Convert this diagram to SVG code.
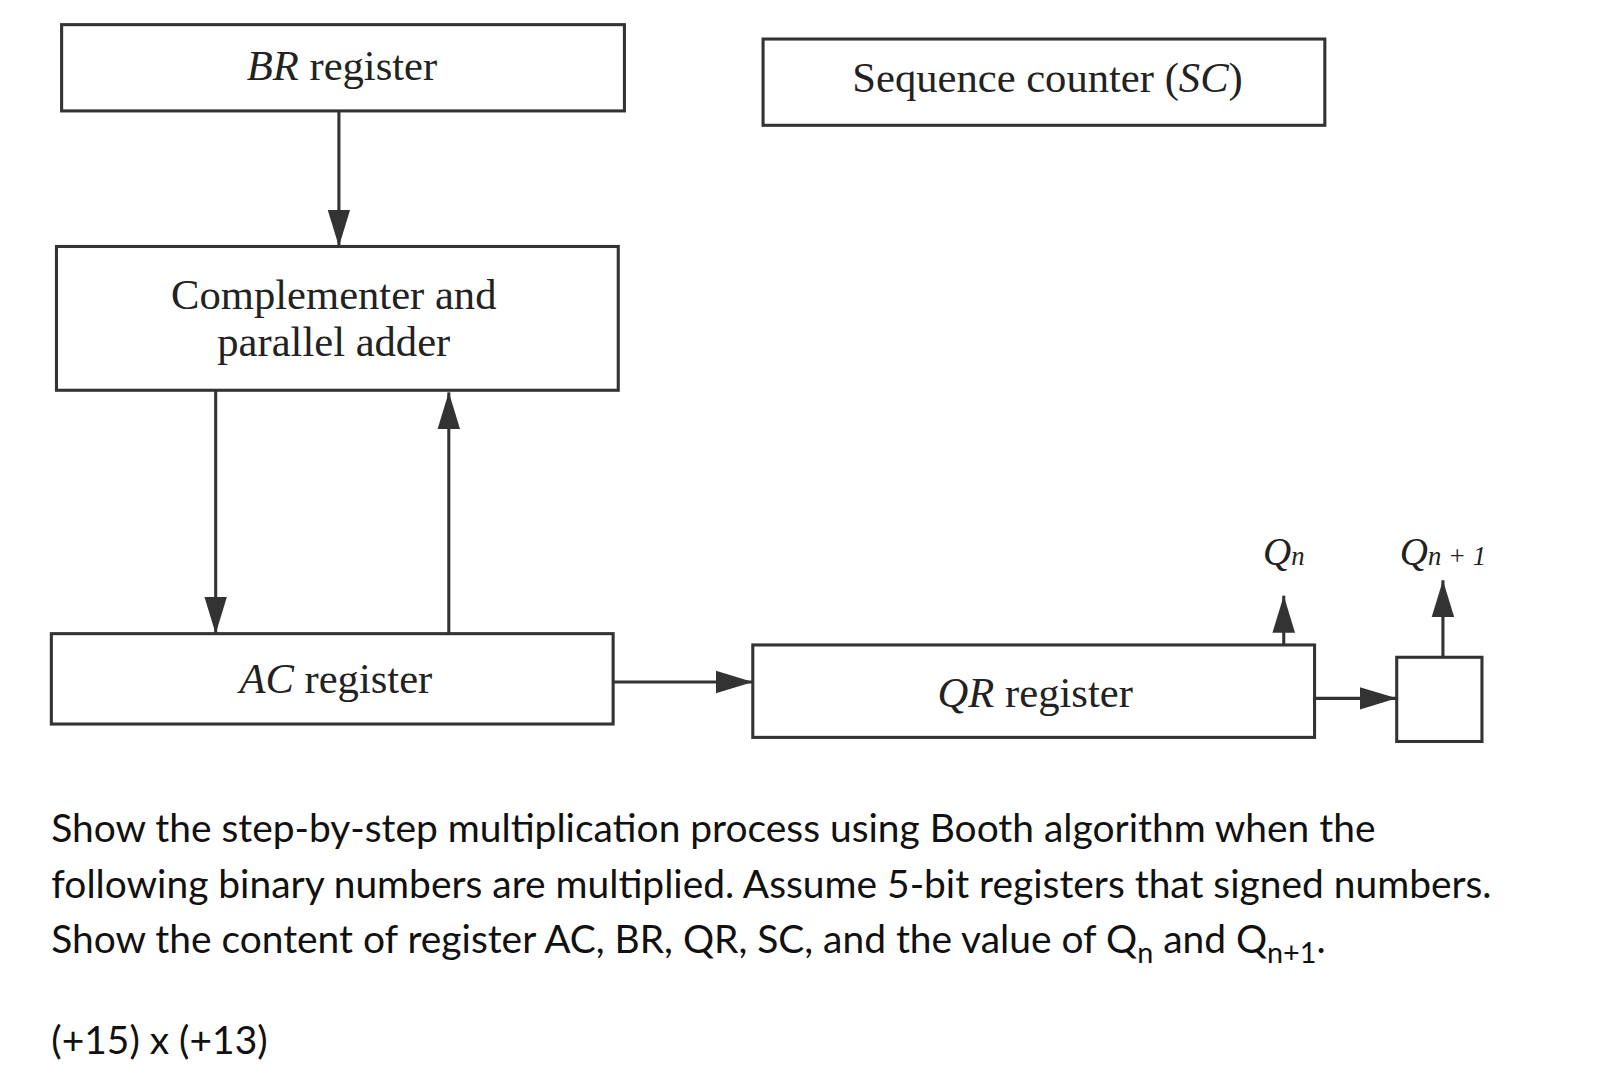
<svg xmlns="http://www.w3.org/2000/svg" width="1610" height="1080" viewBox="0 0 1610 1080">
<style>
.box{fill:none;stroke:#333;stroke-width:3}
.lbl{font-family:"Liberation Serif",serif;font-size:41.5px;fill:#222;text-anchor:middle}
.q{font-family:"Liberation Serif",serif;font-style:italic;font-size:38px;fill:#222;text-anchor:middle}
.txt{font-family:Lato,"Liberation Sans",sans-serif;font-size:37.9px;fill:#111}
.con{stroke:#333;stroke-width:3;fill:none;marker-end:url(#ah2)}
</style>
<defs>
<marker id="ah2" markerWidth="36" markerHeight="26" refX="36" refY="13" orient="auto" markerUnits="userSpaceOnUse" viewBox="0 0 36 26"><path d="M0,2 L36,13 L0,24 Z" fill="#333"/></marker></defs>
<rect width="1610" height="1080" fill="#fff"/>
<g transform="scale(1.027)">
<g id="br"><rect class="box" x="60" y="24" width="548" height="84"/><text class="lbl" x="333" y="78"><tspan font-style="italic">BR</tspan> register</text></g>
<g id="sc"><rect class="box" x="743" y="38" width="547" height="84"/><text class="lbl" x="1020" y="90">Sequence counter (<tspan font-style="italic">SC</tspan>)</text></g>
<g id="cpa"><rect class="box" x="55" y="240" width="547" height="140"/><text class="lbl" x="325" y="301">Complementer and</text><text class="lbl" x="325" y="347">parallel adder</text></g>
<g id="ac"><rect class="box" x="50" y="617" width="547" height="88"/><text class="lbl" x="327" y="675"><tspan font-style="italic">AC</tspan> register</text></g>
<g id="qr"><rect class="box" x="733" y="628" width="547" height="90"/><text class="lbl" x="1008" y="688"><tspan font-style="italic">QR</tspan> register</text></g>
<g id="qn1box"><rect class="box" x="1360" y="640" width="83" height="82"/></g>
<g id="connectors">
<path class="con" d="M330,108 V240"/>
<path class="con" d="M210,380 V617"/>
<path class="con" d="M437,617 V382"/>
<path class="con" d="M597,664 H733"/>
<path class="con" d="M1280,680 H1360"/>
<path class="con" d="M1250,628 V580"/>
<path class="con" d="M1405,640 V565"/>
</g>
<g id="labels"><text class="q" x="1250" y="550">Q<tspan font-size="26">n</tspan></text><text class="q" x="1405" y="550">Q<tspan font-size="26">n + 1</tspan></text></g>
<g id="question">
<text class="txt" x="50" y="820">Show the step-by-step multiplication process using Booth algorithm when the</text>
<text class="txt" x="50" y="874">following binary numbers are multiplied. Assume 5-bit registers that signed numbers.</text>
<text class="txt" x="50" y="928">Show the content of register AC, BR, QR, SC, and the value of Q<tspan font-size="28" dy="10">n</tspan><tspan dy="-10"> and Q</tspan><tspan font-size="28" dy="10">n+1</tspan><tspan dy="-10">.</tspan></text>
<text class="txt" x="50" y="1026">(+15) x (+13)</text>
</g>
</g>
</svg>
